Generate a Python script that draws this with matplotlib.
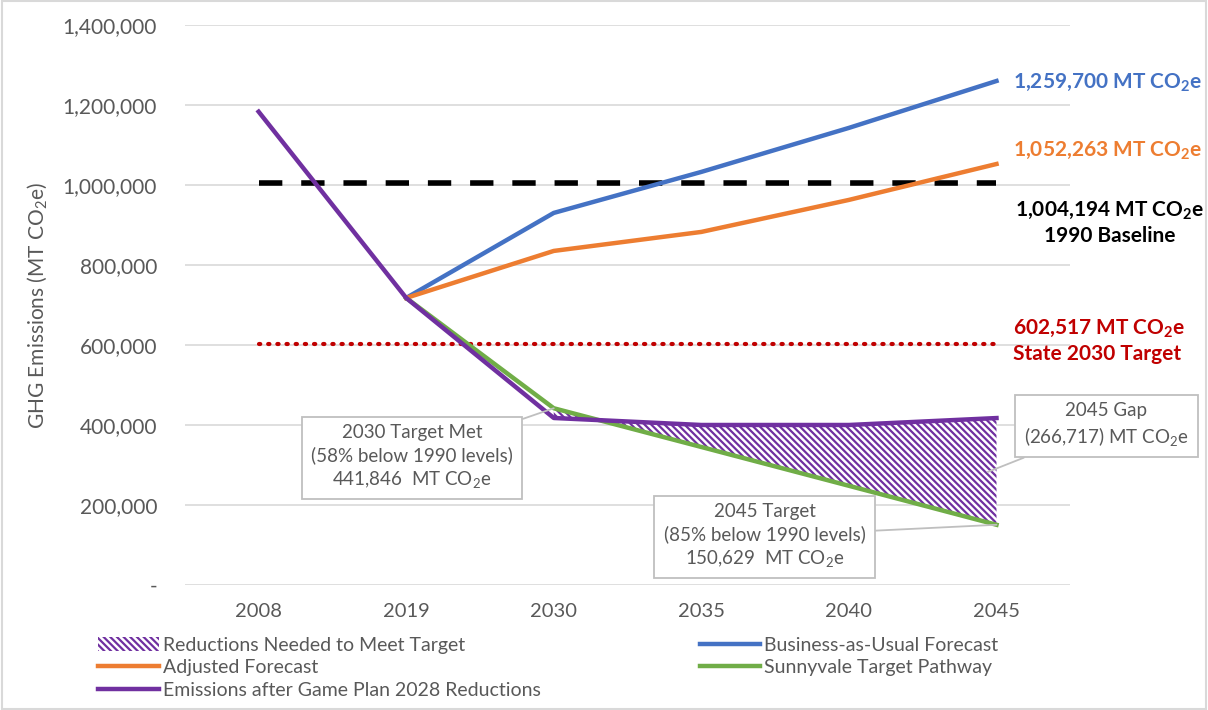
import numpy as np
import matplotlib

matplotlib.use("Agg")
import matplotlib.pyplot as plt

plt.rcParams["font.family"] = ["Lato", "DejaVu Sans"]
plt.rcParams["mathtext.default"] = "regular"
plt.rcParams["hatch.linewidth"] = 1.6

years = ["2008", "2019", "2030", "2035", "2040", "2045"]
bau = [np.nan, 717500, 930000, 1032500, 1142500, 1259700]
adjusted = [np.nan, 717500, 835000, 882500, 962500, 1052263]
target_path = [np.nan, 717500, 441846, 345000, 248000, 150629]
emissions = [1183000, 717500, 417500, 400000, 400000, 417346]
baseline_1990 = 1004194
state_2030 = 602517

BLUE = "#4472C4"
ORANGE = "#ED7D31"
GREEN = "#70AD47"
PURPLE = "#7030A0"
RED = "#C00000"
GRAY = "#595959"

x = np.arange(len(years))

fig = plt.figure(figsize=(12.08, 7.10), dpi=100)
ax = fig.add_axes([0.153, 0.176, 0.733, 0.789])

# reductions gap (2030 onwards)
gap = x >= 2
fill = ax.fill_between(x[gap], np.array(target_path)[gap], np.array(emissions)[gap],
                       facecolor="white", edgecolor=PURPLE, hatch="\\\\\\\\\\", linewidth=0,
                       label="Reductions Needed to Meet Target", zorder=2)

ax.plot(x, [baseline_1990] * len(x), color="black", lw=4, ls=(0, (4.2, 3.4)), zorder=3)
ax.plot(x, [state_2030] * len(x), color=RED, lw=3, ls=(0, (0.3, 1.9)),
        dash_capstyle="round", zorder=3)

l_bau, = ax.plot(x, bau, color=BLUE, lw=3.2, label="Business-as-Usual Forecast", zorder=4)
l_adj, = ax.plot(x, adjusted, color=ORANGE, lw=3.2, label="Adjusted Forecast", zorder=4)
l_tgt, = ax.plot(x, target_path, color=GREEN, lw=3.2, label="Sunnyvale Target Pathway", zorder=5)
l_emi, = ax.plot(x, emissions, color=PURPLE, lw=3.2,
                 label="Emissions after Game Plan 2028 Reductions", zorder=6)

ax.set_xlim(-0.5, 5.5)
ax.set_ylim(0, 1400000)
ax.set_xticks(x)
ax.set_xticklabels(years, fontsize=14.5, color=GRAY)
yt = np.arange(0, 1400001, 200000)
ax.set_yticks(yt)
ax.set_yticklabels(["-" if v == 0 else f"{v:,.0f}" for v in yt], fontsize=15, color=GRAY)
ax.tick_params(length=0, pad=20)
ax.tick_params(axis="x", pad=13)
ax.grid(axis="y", color="#D9D9D9", lw=1.2)
ax.set_axisbelow(True)
for s in ax.spines.values():
    s.set_visible(False)
ax.set_ylabel("GHG Emissions (MT CO$_2$e)", fontsize=15, color=GRAY, labelpad=10)

# right-hand labels
ax.text(5.11, 1257500, "1,259,700 MT CO$_2$e", color=BLUE, fontsize=15,
        fontweight="bold", va="center", ha="left", clip_on=False)
ax.text(5.11, 1087500, "1,052,263 MT CO$_2$e", color=ORANGE, fontsize=15,
        fontweight="bold", va="center", ha="left", clip_on=False)
ax.text(5.77, 905000, "1,004,194 MT CO$_2$e\n1990 Baseline", color="black", fontsize=15,
        fontweight="bold", va="center", ha="center", linespacing=1.3, clip_on=False)
ax.text(5.11, 610000, "602,517 MT CO$_2$e\nState 2030 Target", color=RED, fontsize=15,
        fontweight="bold", va="center", ha="left", linespacing=1.3, clip_on=False)

box = dict(boxstyle="square,pad=0.5", fc="white", ec="#BFBFBF", lw=1.3)
arrow = dict(arrowstyle="-", color="#BFBFBF", lw=1.3, shrinkA=0, shrinkB=0)
ax.annotate("2030 Target Met\n(58% below 1990 levels)\n441,846  MT CO$_2$e",
            xy=(2, 441846), xytext=(1.04, 320000), ha="center", va="center",
            fontsize=13.5, color=GRAY, bbox=box, arrowprops=arrow, linespacing=1.3,
            zorder=7)
ax.annotate("2045 Gap\n(266,717) MT CO$_2$e",
            xy=(4.94, 282500), xytext=(5.745, 400000), ha="center", va="center",
            fontsize=13.5, color=GRAY, bbox=box, arrowprops=arrow, linespacing=1.3,
            annotation_clip=False, zorder=7)
ax.annotate("2045 Target\n(85% below 1990 levels)\n150,629  MT CO$_2$e",
            xy=(5, 150629), xytext=(3.43, 122500), ha="center", va="center",
            fontsize=13.5, color=GRAY, bbox=box, arrowprops=arrow, linespacing=1.3,
            zorder=7)

handles = [fill, l_adj, l_emi, l_bau, l_tgt]
leg = fig.legend(handles, [h.get_label() for h in handles], loc="upper left",
                 bbox_to_anchor=(0.075, 0.114), ncol=2, frameon=False,
                 prop={"size": 14}, labelcolor=GRAY,
                 handlelength=3.1, handletextpad=0.2, columnspacing=8.2,
                 labelspacing=0.28, borderaxespad=0)

fig.patches.append(plt.Rectangle((0.002, 0.002), 0.996, 0.996, transform=fig.transFigure,
                                 fill=False, ec="#D9D9D9", lw=1.5))

fig.savefig("out.png", dpi=100)
